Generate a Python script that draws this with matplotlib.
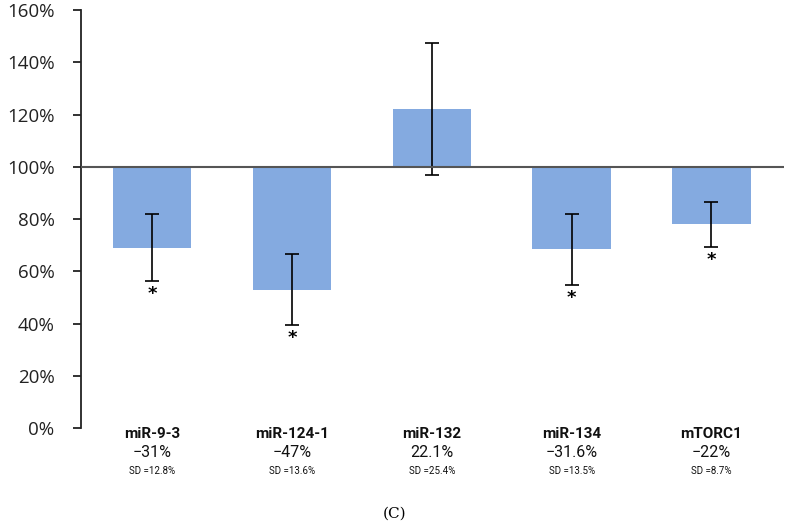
import matplotlib
matplotlib.use("Agg")
import matplotlib.pyplot as plt
from matplotlib.ticker import FuncFormatter

# data (percent of control)
genes = ["miR-9-3", "miR-124-1", "miR-132", "miR-134", "mTORC1"]
changes = ["\u221231%", "\u221247%", "22.1%", "\u221231.6%", "\u221222%"]
means = [69.0, 53.0, 122.1, 68.4, 78.0]
sds = [12.8, 13.6, 25.4, 13.5, 8.7]
significant = [True, True, False, True, True]

BAR_COLOR = "#84aae0"
BASE = 100

fig = plt.figure(figsize=(7.9, 5.31), dpi=100)
ax = fig.add_axes([0.1025, 0.194, 0.89, 0.787])

x = list(range(len(genes)))
heights = [m - BASE for m in means]
ax.bar(x, heights, bottom=BASE, width=0.56, color=BAR_COLOR, zorder=2)
ax.errorbar(x, means, yerr=sds, fmt="none", ecolor="black", elinewidth=1.2,
            capsize=5, capthick=1.2, zorder=3)
ax.axhline(BASE, color="#555555", linewidth=1.5, zorder=4)

for xi, m, s, sig in zip(x, means, sds, significant):
    if sig:
        ax.text(xi, m - s - 1.5, "*", ha="center", va="top", fontsize=13,
                fontweight="bold", family="DejaVu Sans")

ax.set_xlim(-0.51, 4.52)
ax.set_ylim(0, 160)
ax.set_yticks(range(0, 161, 20))
ax.yaxis.set_major_formatter(FuncFormatter(lambda v, _: f"{v:.0f}%"))
ax.tick_params(axis="y", direction="out", length=6, width=1.3, labelsize=13.5,
               pad=13, colors="#222222")
for lab in ax.get_yticklabels():
    lab.set_family("Open Sans")
ax.set_xticks([])
for side in ("top", "right", "bottom"):
    ax.spines[side].set_visible(False)
ax.spines["left"].set_linewidth(1.3)
ax.spines["left"].set_color("#222222")

# labels under the bars
for xi, g, c, s in zip(x, genes, changes, sds):
    xf = ax.transData.transform((xi, 0))[0] / fig.bbox.width
    fig.text(xf, 0.183, g, ha="center", va="center", fontsize=11,
             fontweight="bold", family="Roboto", color="#111111")
    fig.text(xf, 0.148, c, ha="center", va="center", fontsize=11.5,
             family="Roboto", color="#111111")
    fig.text(xf, 0.113, f"SD ={s}%", ha="center", va="center", fontsize=7,
             family="Roboto", color="#111111")

fig.text(0.5, 0.032, "(C)", ha="center", va="center", fontsize=11,
         family="DejaVu Serif")

fig.savefig("out.png", dpi=100)
